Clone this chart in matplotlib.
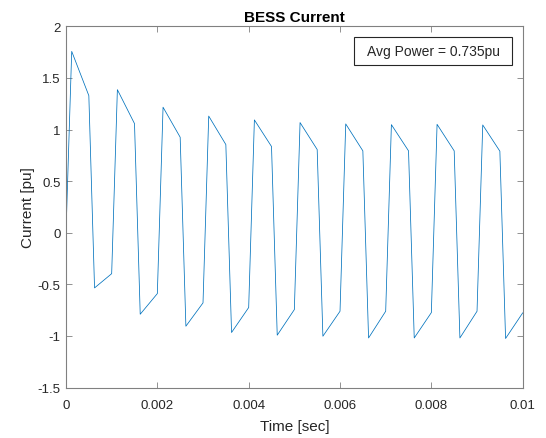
import matplotlib
matplotlib.use("Agg")
import matplotlib.pyplot as plt
from matplotlib.patches import Rectangle

plt.rcParams['font.family'] = ['Liberation Sans', 'DejaVu Sans']

time_s = [0, 0.000125, 0.0005, 0.000625, 0.001,
          0.001125, 0.0015, 0.001625, 0.002,
          0.002125, 0.0025, 0.002625, 0.003,
          0.003125, 0.0035, 0.003625, 0.004,
          0.004125, 0.0045, 0.004625, 0.005,
          0.005125, 0.0055, 0.005625, 0.006,
          0.006125, 0.0065, 0.006625, 0.007,
          0.007125, 0.0075, 0.007625, 0.008,
          0.008125, 0.0085, 0.008625, 0.009,
          0.009125, 0.0095, 0.009625, 0.01]
current_pu = [0, 1.757, 1.328, -0.535, -0.397,
              1.386, 1.057, -0.79, -0.59,
              1.216, 0.925, -0.906, -0.68,
              1.13, 0.854, -0.967, -0.725,
              1.093, 0.835, -0.993, -0.745,
              1.067, 0.806, -1.003, -0.761,
              1.054, 0.793, -1.02, -0.761,
              1.047, 0.793, -1.02, -0.774,
              1.05, 0.793, -1.02, -0.761,
              1.044, 0.79, -1.025, -0.777]
xticks = [0, 0.002, 0.004, 0.006, 0.008, 0.01]
xticklabels = ['0', '0.002', '0.004', '0.006', '0.008', '0.01']
yticks = [-1.5, -1, -0.5, 0, 0.5, 1, 1.5, 2]
yticklabels = ['-1.5', '-1', '-0.5', '0', '0.5', '1', '1.5', '2']

fig = plt.figure(figsize=(5.46, 4.39), dpi=100)
ax = fig.add_axes([66/546, 1-388.5/439, (522.7-66)/546, (388.5-27.3)/439])
ax.plot(time_s, current_pu, color='#0072BD', linewidth=0.55)
ax.set_xlim(0, 0.01)
ax.set_ylim(-1.5, 2)
ax.set_xticks(xticks)
ax.set_xticklabels(xticklabels)
ax.set_yticks(yticks)
ax.set_yticklabels(yticklabels)
gray = '#262626'
for s in ax.spines.values():
    s.set_color('#808080')
    s.set_linewidth(0.8)
ax.tick_params(direction='in', length=4, width=0.6, colors='#808080',
               labelcolor=gray, labelsize=9.5, top=True, right=True, pad=4)
ax.tick_params(axis='x', pad=8)
ax.set_xlabel('Time [sec]', fontsize=11, color=gray, labelpad=6)
ax.set_ylabel('Current [pu]', fontsize=11, color=gray, labelpad=2)
ax.set_title('BESS Current', fontsize=11, fontweight='bold', color='black', pad=4)
ax.add_patch(Rectangle((0.6313, 0.8929), 0.9772 - 0.6313, 0.9696 - 0.8929,
                       transform=ax.transAxes, facecolor='white',
                       edgecolor='#262626', linewidth=0.8, zorder=5))
ax.text(0.804, 0.931, 'Avg Power = 0.735pu', transform=ax.transAxes,
        fontsize=10, color=gray, ha='center', va='center', zorder=6)
fig.savefig('out.png', dpi=100)
